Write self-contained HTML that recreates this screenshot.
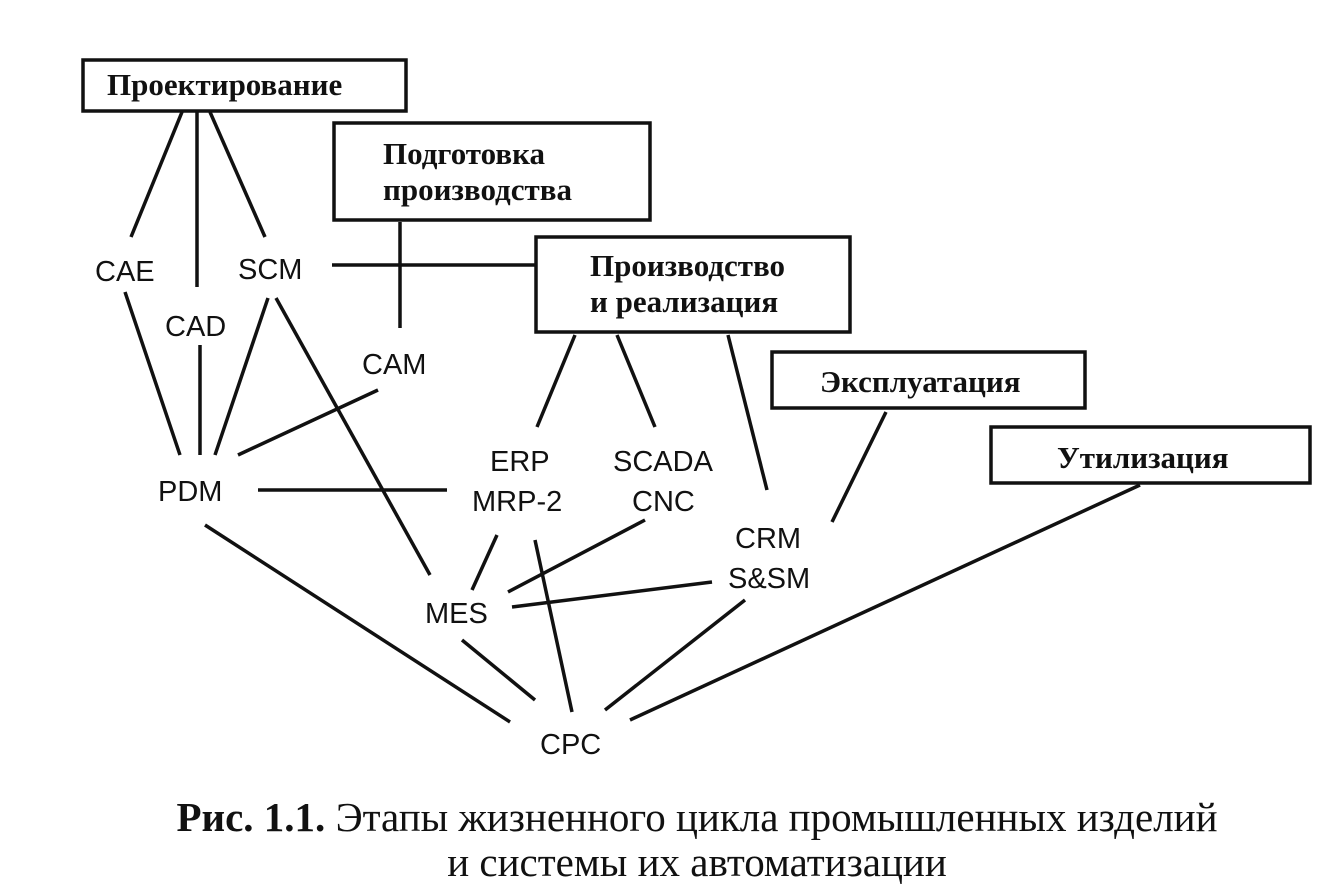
<!DOCTYPE html>
<html><head><meta charset="utf-8"><style>
html,body{margin:0;padding:0;background:#fff}
svg{display:block}
.b{font-family:"Liberation Serif","Noto Serif CJK SC",serif;font-size:31px;font-weight:bold;fill:#111}
.s{font-family:"Liberation Sans",sans-serif;font-size:29px;fill:#111}
.c{font-family:"Liberation Serif",serif;font-size:41px;fill:#111}
</style></head><body>
<svg width="1344" height="892" viewBox="0 0 1344 892" xmlns="http://www.w3.org/2000/svg">
<g fill="none" stroke="#111" stroke-width="3.5">
<rect x="83" y="60" width="323" height="51"/>
<rect x="334" y="123" width="316" height="97"/>
<rect x="536" y="237" width="314" height="95"/>
<rect x="772" y="352" width="313" height="56"/>
<rect x="991" y="427" width="319" height="56"/>
<line x1="182" y1="112" x2="131" y2="237"/>
<line x1="197" y1="112" x2="197" y2="287"/>
<line x1="210" y1="112" x2="265" y2="237"/>
<line x1="332" y1="265" x2="536" y2="265"/>
<line x1="400" y1="222" x2="400" y2="328"/>
<line x1="125" y1="292" x2="180" y2="455"/>
<line x1="200" y1="345" x2="200" y2="455"/>
<line x1="268" y1="298" x2="215" y2="455"/>
<line x1="276" y1="298" x2="430" y2="575"/>
<line x1="378" y1="390" x2="238" y2="455"/>
<line x1="258" y1="490" x2="447" y2="490"/>
<line x1="575" y1="335" x2="537" y2="427"/>
<line x1="617" y1="335" x2="655" y2="427"/>
<line x1="728" y1="335" x2="767" y2="490"/>
<line x1="886" y1="412" x2="832" y2="522"/>
<line x1="1140" y1="485" x2="630" y2="720"/>
<line x1="497" y1="535" x2="472" y2="590"/>
<line x1="535" y1="540" x2="572" y2="712"/>
<line x1="645" y1="520" x2="508" y2="592"/>
<line x1="512" y1="607" x2="712" y2="582"/>
<line x1="745" y1="600" x2="605" y2="710"/>
<line x1="205" y1="525" x2="510" y2="722"/>
<line x1="462" y1="640" x2="535" y2="700"/>
</g>
<text class="b" x="107" y="95">Проектирование</text>
<text class="b" x="383" y="164">Подготовка</text>
<text class="b" x="383" y="200">производства</text>
<text class="b" x="590" y="276">Производство</text>
<text class="b" x="590" y="312">и реализация</text>
<text class="b" x="820" y="392">Эксплуатация</text>
<text class="b" x="1057" y="468">Утилизация</text>
<g class="s">
<text x="95" y="281">CAE</text>
<text x="165" y="336">CAD</text>
<text x="238" y="279">SCM</text>
<text x="362" y="374">CAM</text>
<text x="158" y="501">PDM</text>
<text x="490" y="471">ERP</text>
<text x="472" y="511">MRP-2</text>
<text x="613" y="471">SCADA</text>
<text x="632" y="511">CNC</text>
<text x="735" y="548">CRM</text>
<text x="728" y="588">S&amp;SM</text>
<text x="425" y="623">MES</text>
<text x="540" y="754">CPC</text>
</g>
<text class="c" x="697" y="831" text-anchor="middle"><tspan font-weight="bold">Рис. 1.1.</tspan> Этапы жизненного цикла промышленных изделий</text>
<text class="c" x="697" y="876" text-anchor="middle">и системы их автоматизации</text>
</svg>
</body></html>
